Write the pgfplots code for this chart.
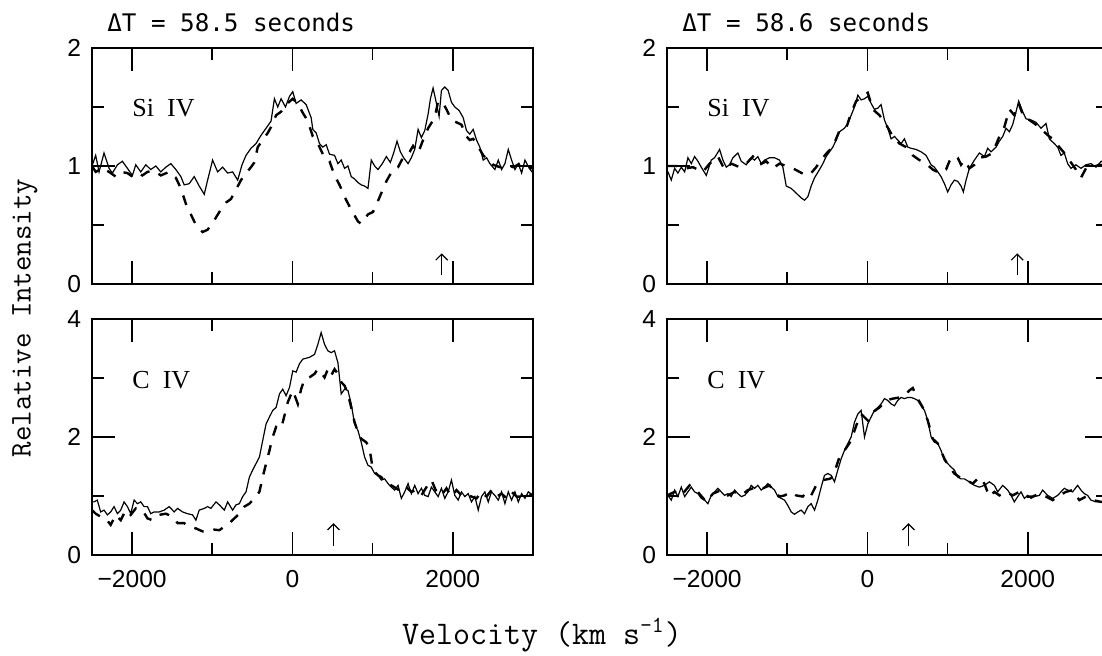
\documentclass[border=0pt]{standalone}
\usepackage{fontspec}
\usepackage{pgfplots}
\pgfplotsset{compat=1.18}
\usetikzlibrary{arrows.meta}
\newfontfamily\tickfont{Liberation Sans}
\newfontfamily\linefont{Liberation Serif}
\newfontfamily\titlefont{DejaVu Sans Mono}

\pgfplotsset{
  panel/.style={
    scale only axis, width=220.5pt, height=118pt,
    anchor=south west,
    xmin=-2500, xmax=3000,
    xtick={-2000,0,2000}, minor xtick={-1000,1000},
    tick align=inside,
    major tick length=11.5pt, minor tick length=6pt,
    tick style={black, line width=0.8pt},
    axis line style={line width=1pt},
    tick label style={font=\tickfont\fontsize{12.3}{13}\selectfont},
    yticklabel style={xshift=-2pt},
    xticklabel style={yshift=-4pt},
  },
  toppanel/.style={panel, ymin=0, ymax=2, ytick={0,1,2}, minor ytick={0.5,1.5},
    yticklabels={0,1,2}, xticklabels={,,}},
  botpanel/.style={panel, ymin=0, ymax=4, ytick={0,2,4}, minor ytick={1,3},
    yticklabels={0,2,4}, xticklabels={−2000,0,2000}},
  sol/.style={black, line width=0.6pt, no marks},
  das/.style={black, line width=1.2pt, no marks, dash pattern=on 5pt off 5pt},
}
\tikzset{
  ion/.style={anchor=west, inner sep=0pt, font=\linefont\fontsize{13}{13}\selectfont},
  mark arrow/.style={line width=0.6pt, -{Straight Barb[length=3pt,width=6pt]}},
}

\begin{document}
\begin{tikzpicture}

% ---- top left: Si IV, dT = 58.5 s
\begin{axis}[toppanel, at={(46pt,186pt)}]
\addplot[sol] coordinates {
(-2500,1.00)(-2454,1.09)(-2412,0.95)(-2350,1.11)(-2287,0.98)(-2246,0.94)(-2183,1.01)
(-2121,1.04)(-2058,0.98)(-1996,0.92)(-1954,1.01)(-1892,0.95)(-1829,1.01)(-1767,0.97)
(-1704,1.00)(-1642,0.95)(-1579,0.99)(-1517,1.02)(-1454,0.97)(-1392,0.91)(-1350,0.84)
(-1288,0.85)(-1225,0.91)(-1163,0.83)(-1100,0.76)(-1058,0.88)(-996,1.05)(-933,0.95)
(-871,0.99)(-808,0.94)(-746,0.95)(-683,0.88)(-629,1.01)(-579,1.09)(-517,1.15)
(-454,1.19)(-392,1.26)(-329,1.32)(-267,1.38)(-225,1.57)(-183,1.50)(-142,1.57)
(-87,1.50)(-37,1.59)(4,1.63)(46,1.53)(108,1.56)(171,1.52)(233,1.41)(254,1.31)
(296,1.28)(337,1.19)(379,1.16)(421,1.18)(462,1.10)(525,1.09)(567,1.02)(608,1.05)
(650,0.98)(692,1.00)(733,0.91)(775,0.89)(817,0.86)(858,0.84)(900,0.83)(942,0.81)
(983,1.05)(1025,1.00)(1067,0.97)(1121,1.02)(1171,1.08)(1221,1.03)(1262,1.11)
(1304,1.21)(1346,1.12)(1387,1.07)(1442,1.02)(1483,1.07)(1525,1.14)(1567,1.31)
(1608,1.24)(1650,1.30)(1692,1.44)(1721,1.57)(1754,1.66)(1796,1.53)(1829,1.42)
(1858,1.64)(1900,1.67)(1942,1.64)(1983,1.54)(2025,1.50)(2079,1.47)(2129,1.41)
(2171,1.30)(2212,1.27)(2254,1.31)(2296,1.22)(2337,1.16)(2379,1.05)(2421,1.07)
(2462,1.02)(2525,0.97)(2567,1.05)(2608,0.97)(2650,1.02)(2692,1.14)(2733,1.05)
(2775,0.97)(2817,1.02)(2858,0.94)(2900,1.05)(2954,0.98)(3000,0.94)
};
\addplot[das] coordinates {
(-2500,1.00)(-2454,0.95)(-2371,0.98)(-2287,0.95)(-2204,0.91)(-2142,0.95)(-2058,0.94)
(-1996,0.91)(-1933,0.94)(-1871,0.92)(-1808,0.95)(-1725,0.96)(-1642,0.92)(-1537,0.95)
(-1454,0.90)(-1392,0.81)(-1329,0.68)(-1267,0.59)(-1204,0.50)(-1121,0.44)(-1058,0.46)
(-975,0.54)(-912,0.61)(-829,0.69)(-767,0.72)(-704,0.80)(-642,0.88)(-579,0.94)
(-517,0.99)(-475,1.03)(-433,1.16)(-371,1.22)(-308,1.28)(-267,1.33)(-204,1.43)
(-142,1.46)(-79,1.52)(4,1.57)(67,1.53)(129,1.45)(192,1.38)(254,1.25)(317,1.19)
(400,1.07)(462,1.04)(525,0.92)(587,0.84)(671,0.71)(733,0.63)(817,0.53)(858,0.51)
(942,0.59)(1004,0.61)(1046,0.67)(1108,0.77)(1171,0.87)(1254,0.97)(1317,0.99)
(1379,1.07)(1462,1.12)(1504,1.17)(1567,1.11)(1629,1.22)(1692,1.32)(1775,1.41)
(1817,1.55)(1879,1.53)(1921,1.48)(1983,1.39)(2046,1.37)(2108,1.35)(2171,1.25)
(2212,1.22)(2254,1.23)(2296,1.19)(2337,1.14)(2379,1.09)(2442,1.05)(2504,1.01)
(2587,0.99)(2671,1.01)(2754,0.99)(2837,1.02)(2921,0.99)(3000,0.98)
};
\node[ion] at (axis cs:-2000,1.49) {Si~~IV};
\draw[mark arrow] (axis cs:1862,0.08) -- (axis cs:1862,0.26);
\end{axis}

% ---- bottom left: C IV
\begin{axis}[botpanel, at={(46pt,50.5pt)}]
\addplot[sol] coordinates {
(-2500,0.90)(-2475,0.90)(-2434,0.93)(-2392,0.73)(-2350,0.76)(-2308,0.68)(-2267,0.73)
(-2225,0.82)(-2183,0.70)(-2142,0.76)(-2100,0.90)(-2058,0.82)(-2017,0.70)(-1975,0.93)
(-1933,0.87)(-1892,0.90)(-1850,0.82)(-1808,0.82)(-1767,0.70)(-1725,0.73)(-1662,0.73)
(-1600,0.76)(-1537,0.82)(-1475,0.73)(-1433,0.79)(-1371,0.73)(-1308,0.70)(-1246,0.68)
(-1204,0.59)(-1163,0.76)(-1100,0.79)(-1058,0.82)(-1017,0.79)(-954,0.90)(-912,0.85)
(-850,0.76)(-808,0.90)(-746,0.76)(-704,0.85)(-662,0.87)(-621,0.99)(-579,1.07)
(-537,1.32)(-496,1.44)(-454,1.55)(-412,1.66)(-371,1.94)(-329,2.22)(-287,2.34)
(-246,2.45)(-204,2.50)(-162,2.73)(-121,2.81)(-79,2.70)(-37,2.84)(4,3.12)(46,3.10)
(87,3.24)(129,3.32)(212,3.35)(275,3.40)(317,3.57)(358,3.77)(400,3.57)(442,3.46)
(483,3.43)(525,3.46)(567,3.26)(608,2.73)(650,2.81)(692,2.79)(733,2.56)(775,2.22)
(817,2.11)(858,1.91)(900,1.66)(942,1.52)(983,1.49)(1025,1.38)(1067,1.35)(1108,1.27)
(1150,1.29)(1192,1.21)(1233,1.15)(1275,1.10)(1317,1.18)(1358,0.96)(1400,1.07)
(1442,1.21)(1483,1.04)(1525,1.18)(1567,1.04)(1608,1.13)(1650,1.01)(1692,0.99)
(1733,1.15)(1775,1.07)(1817,0.99)(1858,1.13)(1900,0.96)(1942,1.07)(1983,1.27)
(2025,1.01)(2067,0.93)(2108,1.07)(2150,0.99)(2192,1.04)(2233,0.90)(2275,0.99)
(2317,0.76)(2358,0.99)(2400,1.07)(2442,0.90)(2483,1.07)(2525,1.01)(2567,0.93)
(2608,1.07)(2650,0.87)(2692,1.07)(2733,0.93)(2775,1.07)(2817,0.90)(2858,1.04)
(2900,0.96)(2942,1.07)(3000,1.01)
};
\addplot[das] coordinates {
(-2500,0.76)(-2454,0.70)(-2392,0.65)(-2329,0.62)(-2267,0.51)(-2204,0.68)(-2142,0.59)
(-2079,0.76)(-2017,0.68)(-1954,0.79)(-1871,0.76)(-1808,0.62)(-1746,0.59)(-1662,0.68)
(-1579,0.70)(-1496,0.65)(-1433,0.54)(-1350,0.54)(-1288,0.48)(-1204,0.45)(-1121,0.40)
(-1037,0.40)(-975,0.43)(-912,0.42)(-850,0.48)(-787,0.54)(-725,0.62)(-662,0.70)
(-600,0.82)(-537,0.87)(-475,0.96)(-412,1.07)(-371,1.32)(-329,1.55)(-287,1.77)
(-246,2.00)(-204,2.17)(-142,2.14)(-100,2.36)(-58,2.59)(4,2.79)(67,2.56)(108,2.81)
(150,2.98)(212,3.01)(275,3.07)(317,3.15)(358,3.09)(400,3.01)(442,3.15)(483,3.04)
(525,3.15)(567,3.07)(608,2.93)(650,2.87)(692,2.73)(733,2.50)(775,2.25)(817,2.08)
(858,1.97)(921,1.91)(962,1.80)(1004,1.44)(1067,1.35)(1108,1.32)(1171,1.21)
(1233,1.18)(1296,1.13)(1358,1.07)(1421,1.15)(1483,1.07)(1546,1.10)(1608,1.01)
(1671,1.15)(1733,1.27)(1796,1.07)(1858,1.01)(1921,1.13)(1983,0.99)(2046,1.10)
(2108,1.01)(2171,1.04)(2233,0.99)(2296,0.96)(2358,1.07)(2421,0.99)(2483,1.10)
(2546,0.99)(2608,1.04)(2671,0.96)(2733,1.07)(2796,0.99)(2879,0.99)(2942,1.04)
(3000,1.01)
};
\node[ion] at (axis cs:-2000,2.97) {C~~IV};
\draw[mark arrow] (axis cs:512,0.15) -- (axis cs:512,0.54);
\end{axis}

% ---- top right: Si IV, dT = 58.6 s
\begin{axis}[toppanel, at={(333.5pt,186pt)}]
\addplot[sol] coordinates {
(-2500,0.95)(-2488,0.95)(-2447,0.88)(-2405,0.98)(-2364,0.94)(-2322,0.99)(-2280,0.95)
(-2239,1.07)(-2197,1.02)(-2156,1.08)(-2114,1.04)(-2073,0.99)(-2010,0.92)(-1948,1.05)
(-1907,1.07)(-1844,1.14)(-1803,1.05)(-1761,0.99)(-1720,1.01)(-1678,1.07)(-1616,1.11)
(-1574,1.04)(-1512,1.01)(-1450,1.07)(-1408,1.05)(-1367,1.08)(-1325,1.02)(-1283,1.05)
(-1221,1.07)(-1159,1.07)(-1097,1.05)(-1055,0.99)(-1013,0.83)(-951,0.81)(-889,0.77)
(-827,0.73)(-785,0.71)(-743,0.74)(-702,0.83)(-660,0.90)(-598,0.97)(-556,1.02)
(-515,1.08)(-473,1.12)(-432,1.16)(-390,1.22)(-349,1.29)(-287,1.32)(-245,1.36)
(-203,1.43)(-162,1.50)(-120,1.60)(-79,1.56)(-37,1.57)(4,1.59)(46,1.53)(87,1.48)
(129,1.49)(170,1.52)(212,1.39)(253,1.32)(295,1.23)(337,1.25)(378,1.22)(420,1.19)
(461,1.23)(503,1.16)(544,1.15)(607,1.14)(669,1.12)(731,1.09)(794,1.01)(835,0.99)
(877,0.95)(918,0.91)(960,0.85)(1001,0.78)(1043,0.84)(1084,0.88)(1126,0.87)
(1167,0.83)(1196,0.78)(1230,0.88)(1271,0.98)(1334,1.05)(1396,1.11)(1458,1.08)
(1500,1.15)(1541,1.12)(1604,1.16)(1645,1.21)(1687,1.25)(1728,1.32)(1770,1.29)
(1811,1.35)(1853,1.46)(1886,1.55)(1936,1.46)(1977,1.40)(2040,1.39)(2102,1.37)
(2164,1.32)(2227,1.36)(2268,1.23)(2330,1.19)(2372,1.16)(2413,1.09)(2455,1.11)
(2497,1.02)(2538,0.98)(2600,1.01)(2663,0.98)(2725,1.01)(2787,1.02)(2850,0.99)
(2916,1.04)(3000,1.00)
};
\addplot[das] coordinates {
(-2500,1.00)(-2384,1.00)(-2260,0.98)(-2177,0.99)(-2052,0.95)(-1969,1.02)(-1865,1.08)
(-1782,0.97)(-1699,1.02)(-1595,0.99)(-1512,1.02)(-1429,1.08)(-1346,1.01)(-1263,1.04)
(-1180,0.98)(-1097,1.02)(-1013,1.00)(-930,0.98)(-847,0.95)(-764,0.92)(-702,0.94)
(-640,0.99)(-556,1.07)(-494,1.12)(-432,1.16)(-349,1.30)(-266,1.32)(-203,1.45)
(-141,1.55)(-58,1.59)(4,1.62)(67,1.48)(150,1.43)(233,1.35)(316,1.25)(399,1.19)
(482,1.16)(565,1.09)(648,1.05)(731,1.02)(814,0.97)(897,0.94)(980,0.97)(1022,1.04)
(1064,1.08)(1126,1.07)(1167,1.01)(1209,1.05)(1271,0.98)(1334,1.01)(1396,1.07)
(1479,1.08)(1562,1.11)(1645,1.25)(1707,1.33)(1770,1.48)(1832,1.43)(1886,1.53)
(1957,1.40)(2019,1.39)(2102,1.35)(2185,1.30)(2268,1.25)(2330,1.22)(2393,1.16)
(2455,1.11)(2517,1.05)(2600,0.97)(2663,0.90)(2725,0.98)(2808,0.99)(2891,1.01)
(3000,1.00)
};
\node[ion] at (axis cs:-2000,1.49) {Si~~IV};
\draw[mark arrow] (axis cs:1868,0.08) -- (axis cs:1868,0.26);
\end{axis}

% ---- bottom right: C IV
\begin{axis}[botpanel, at={(333.5pt,50.5pt)}]
\addplot[sol] coordinates {
(-2500,1.01)(-2488,1.01)(-2447,0.93)(-2405,1.10)(-2364,0.99)(-2322,1.15)(-2280,0.99)
(-2239,1.07)(-2197,1.15)(-2156,1.07)(-2114,1.04)(-2073,0.96)(-2031,0.93)(-1990,0.87)
(-1948,1.01)(-1907,1.07)(-1865,1.13)(-1824,1.07)(-1782,1.01)(-1740,1.04)(-1699,0.99)
(-1657,1.10)(-1616,1.04)(-1574,0.99)(-1533,1.01)(-1491,1.07)(-1450,1.18)(-1408,1.13)
(-1367,1.18)(-1325,1.10)(-1283,1.15)(-1242,1.21)(-1200,1.15)(-1159,1.10)(-1117,0.99)
(-1076,0.96)(-1034,0.93)(-993,0.84)(-951,0.73)(-910,0.69)(-868,0.73)(-827,0.76)
(-785,0.70)(-743,0.82)(-702,0.87)(-660,0.76)(-619,0.93)(-577,1.15)(-536,1.35)
(-494,1.38)(-453,1.35)(-411,1.24)(-370,1.44)(-328,1.63)(-287,1.77)(-245,1.89)
(-203,2.00)(-162,2.25)(-120,2.39)(-79,2.45)(-37,2.00)(4,2.22)(46,2.34)(87,2.45)
(129,2.50)(170,2.56)(212,2.65)(253,2.62)(295,2.56)(337,2.53)(378,2.62)(420,2.67)
(461,2.65)(503,2.67)(544,2.67)(586,2.65)(627,2.62)(669,2.53)(711,2.45)(752,2.28)
(794,2.00)(835,1.91)(877,1.89)(918,1.77)(960,1.60)(1001,1.55)(1043,1.49)(1084,1.44)
(1126,1.32)(1167,1.29)(1209,1.29)(1271,1.24)(1334,1.18)(1396,1.15)(1458,1.18)
(1521,1.24)(1583,1.18)(1624,1.07)(1687,1.18)(1749,1.10)(1791,1.01)(1832,0.90)
(1874,0.99)(1915,1.07)(1957,0.96)(1998,1.01)(2040,0.96)(2081,0.99)(2144,1.01)
(2185,1.10)(2247,1.01)(2310,0.96)(2372,1.01)(2413,1.07)(2455,1.13)(2497,1.10)
(2559,1.07)(2621,1.18)(2663,1.10)(2704,1.04)(2746,1.01)(2787,0.93)(2850,0.90)
(2916,0.90)(3000,0.92)
};
\addplot[das] coordinates {
(-2500,1.01)(-2405,1.07)(-2322,1.01)(-2218,1.18)(-2135,1.10)(-2010,0.90)(-1927,1.04)
(-1824,1.10)(-1740,1.01)(-1657,1.07)(-1574,1.01)(-1491,1.10)(-1387,1.15)(-1304,1.13)
(-1221,1.18)(-1159,1.07)(-1097,0.99)(-1034,1.01)(-951,1.07)(-889,1.01)(-806,0.99)
(-764,1.07)(-702,1.01)(-640,1.18)(-556,1.27)(-474,1.29)(-432,1.32)(-349,1.66)
(-287,1.77)(-203,1.94)(-141,2.19)(-79,2.39)(4,2.28)(67,2.42)(150,2.50)(233,2.62)
(316,2.65)(399,2.67)(461,2.70)(524,2.79)(565,2.83)(627,2.65)(690,2.50)(752,2.28)
(814,1.97)(877,1.89)(960,1.63)(1022,1.49)(1084,1.38)(1147,1.32)(1230,1.27)
(1313,1.21)(1396,1.32)(1458,1.21)(1520,0.99)(1583,1.07)(1645,1.01)(1728,1.07)
(1811,1.01)(1894,1.07)(1977,0.99)(2060,0.99)(2144,1.04)(2227,0.99)(2310,0.93)
(2393,1.01)(2476,1.07)(2559,1.10)(2642,0.93)(2725,0.99)(2808,0.93)(2916,0.90)
(3000,0.92)
};
\node[ion] at (axis cs:-2000,2.97) {C~~IV};
\draw[mark arrow] (axis cs:511,0.15) -- (axis cs:511,0.54);
\end{axis}

% ---- titles and shared axis labels
\node[anchor=west, inner sep=0pt, font=\titlefont\fontsize{12.1}{13}\selectfont]
  at (53.5pt,317pt) {ΔT = 58.5 seconds};
\node[anchor=west, inner sep=0pt, font=\titlefont\fontsize{12.1}{13}\selectfont]
  at (341pt,317pt) {ΔT = 58.6 seconds};
\node[rotate=90, font=\ttfamily\fontsize{15}{15}\selectfont]
  at (12.5pt,169pt) {Relative Intensity};
\node[anchor=base, font=\ttfamily\fontsize{16.5}{17}\selectfont]
  at (271pt,5.5pt) {Velocity (km s\textsuperscript{-1})};

\pgfresetboundingbox
\path[use as bounding box] (0pt,0pt) rectangle (551pt,328pt);
\end{tikzpicture}
\end{document}
